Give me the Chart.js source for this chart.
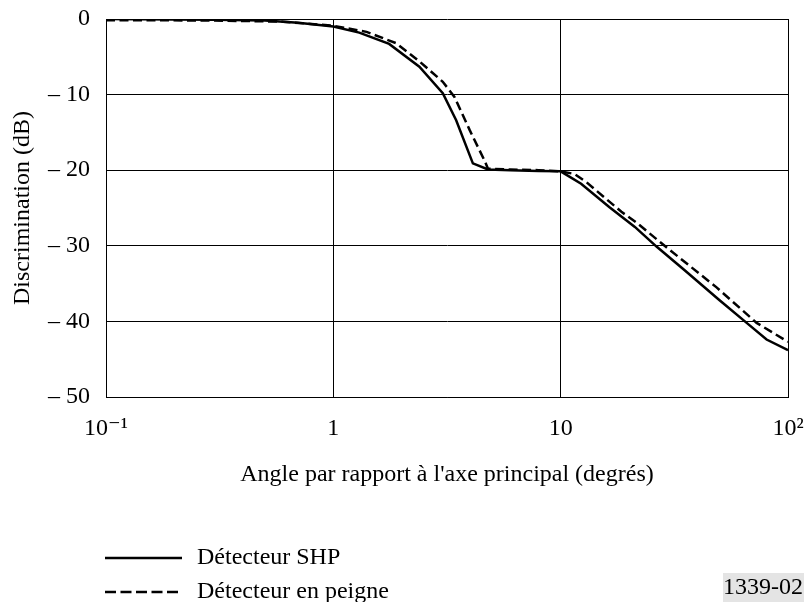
<!DOCTYPE html>
<html>
<head>
<meta charset="utf-8">
<script src="https://cdn.jsdelivr.net/npm/chart.js@4"></script>
<style>
  html, body { margin: 0; padding: 0; background: #fff; }
  #wrap { position: relative; width: 807px; height: 602px; }
</style>
</head>
<body>
<div id="wrap"><canvas id="chart" width="807" height="602"></canvas></div>
<script>
// angle (degrees) / discrimination (dB)
const shpAngles   = [0.1, 0.2, 0.3, 0.5, 0.7, 1, 1.3, 1.76, 2.39, 3.03, 3.47, 4.11, 4.79, 6, 8, 10, 12.3, 16.4, 21.2, 26.4, 35, 50, 65.8, 80.5, 100];
const shpDb       = [0, -0.05, -0.1, -0.2, -0.5, -1.0, -1.8, -3.3, -6.3, -9.8, -13.4, -19.1, -19.9, -20.0, -20.1, -20.15, -21.8, -24.9, -27.5, -30.1, -33.2, -37.2, -40.2, -42.4, -43.8];
const peigneAngles = [0.1, 0.3, 0.6, 1, 1.4, 1.89, 2.39, 3.03, 3.41, 3.98, 4.62, 4.79, 6, 8, 10, 11.5, 13, 18.5, 21.5, 29.2, 48.5, 72.8, 100];
const peigneDb     = [-0.15, -0.2, -0.35, -0.9, -1.7, -3.2, -5.6, -8.3, -10.3, -14.7, -18.7, -19.8, -19.9, -20.0, -20.15, -20.5, -21.6, -25.5, -26.9, -30.2, -35.5, -40.2, -42.7];

const xTickValues = [0.1, 1, 10, 100];
const xTickLabels = ['10\u207B\u00B9', '1', '10', '10\u00B2'];
const yTickValues = [0, -10, -20, -30, -40, -50];

const seriesLabels = ['Détecteur SHP', 'Détecteur en peigne'];
const figureCode = '1339-02';

const FONT = '"Liberation Serif", "Times New Roman", "DejaVu Serif", serif';
const SIZE = 24;
const DASH = [9, 4.5];

const toPts = (xs, ys) => xs.map((x, i) => ({ x, y: ys[i] }));

// legend + figure number drawn under the plot
const extrasPlugin = {
  id: 'extras',
  afterDraw(chart) {
    const c = chart.ctx;
    c.save();
    c.font = `${SIZE}px ${FONT}`;
    c.fillStyle = '#000';
    c.textBaseline = 'middle';
    const rows = [{ y: 558, dash: [] }, { y: 592, dash: [11, 4.5] }];
    chart.data.datasets.forEach((ds, i) => {
      const r = rows[i];
      c.beginPath();
      c.setLineDash(r.dash);
      c.lineWidth = 2.5;
      c.strokeStyle = '#000';
      c.moveTo(105, r.y);
      c.lineTo(182, r.y);
      c.stroke();
      c.setLineDash([]);
      c.fillText(ds.label, 197, r.y);
    });
    // figure number box
    c.fillStyle = '#e4e4e4';
    c.fillRect(723, 573, 81, 29);
    c.fillStyle = '#000';
    c.textAlign = 'center';
    c.fillText(figureCode, 763, 588);
    c.restore();
  }
};

new Chart(document.getElementById('chart'), {
  type: 'line',
  data: {
    datasets: [
      { label: seriesLabels[0], data: toPts(shpAngles, shpDb),
        borderColor: '#000', borderWidth: 2.5, pointRadius: 0, tension: 0, fill: false },
      { label: seriesLabels[1], data: toPts(peigneAngles, peigneDb),
        borderColor: '#000', borderWidth: 2.5, borderDash: DASH, pointRadius: 0, tension: 0, fill: false }
    ]
  },
  options: {
    responsive: false,
    animation: false,
    devicePixelRatio: 1,
    layout: { padding: { left: 0, top: 19, right: 19, bottom: 113 } },
    plugins: { legend: { display: false }, tooltip: { enabled: false } },
    scales: {
      x: {
        type: 'logarithmic', min: 0.1, max: 100,
        afterBuildTicks: s => { s.ticks = xTickValues.map(v => ({ value: v })); },
        afterFit: s => { s.height = 92; s.paddingLeft = 0; s.paddingRight = 0; },
        ticks: {
          color: '#000', padding: 17, maxRotation: 0, autoSkip: false,
          font: { family: FONT, size: SIZE },
          callback: (v) => { const i = xTickValues.indexOf(v); return i >= 0 ? xTickLabels[i] : ''; }
        },
        grid: { color: '#000', lineWidth: 1, drawTicks: false },
        border: { color: '#000', width: 1 },
        title: { display: true, text: "Angle par rapport à l'axe principal (degrés)", color: '#000',
          font: { family: FONT, size: SIZE }, padding: { top: 0, bottom: 0 } }
      },
      y: {
        min: -50, max: 0,
        afterBuildTicks: s => { s.ticks = yTickValues.map(v => ({ value: v })); },
        afterFit: s => { s.width = 106; s.paddingTop = 0; s.paddingBottom = 0; },
        ticks: {
          color: '#000', padding: 16,
          font: { family: FONT, size: SIZE },
          callback: v => v === 0 ? '0' : '\u2013 ' + Math.abs(v)
        },
        grid: { color: '#000', lineWidth: 1, drawTicks: false },
        border: { color: '#000', width: 1 },
        title: { display: true, text: 'Discrimination (dB)', color: '#000',
          font: { family: FONT, size: SIZE }, padding: { top: 8, bottom: 0 } }
      }
    }
  },
  plugins: [extrasPlugin]
});
</script>
</body>
</html>
